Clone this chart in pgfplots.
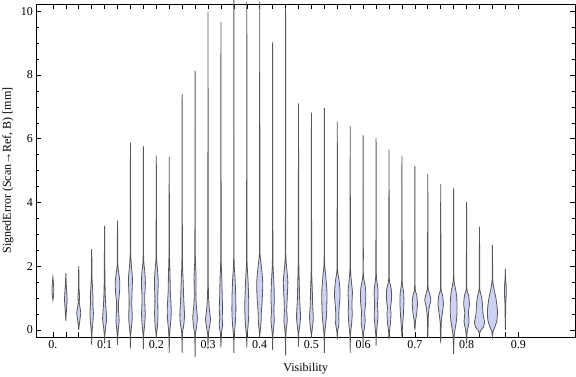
\documentclass[border=0pt]{standalone}
\usepackage{fontspec}
\setmainfont{Liberation Serif}
\usepackage{pgfplots}
\pgfplotsset{compat=1.18}
\definecolor{vfill}{RGB}{205,210,245}
\pgfplotsset{violin/.style={draw=black!66, line width=0.8bp, fill=vfill, mark=none, smooth, tension=0.45}}
% \violin{center}{min}{max}{y/halfwidth(px), ...}
\newcommand\violin[4]{%
  \gdef\vR{}\gdef\vL{}%
  \foreach \yy/\ww in {#4}{%
    \pgfmathsetmacro\xr{#1+\ww/517.7}%
    \pgfmathsetmacro\xl{#1-\ww/517.7}%
    \xdef\vR{\vR (\xr,\yy)}%
    \xdef\vL{(\xl,\yy)\vL}%
  }%
  \edef\temp{\noexpand\addplot[violin] coordinates {(#1,#2)\vR(#1,#3)\vL} -- cycle;}%
  \temp
}
\begin{document}
\begin{tikzpicture}
\begin{axis}[
  name=ax,
  scale only axis,
  width=538.5bp, height=332.7bp,
  xmin=-0.0317, xmax=1.0097,
  ymin=-0.22, ymax=10.22,
  clip=false,
  axis line style={line width=0.8bp},
  tick align=inside,
  major tick length=5bp, minor tick length=3bp,
  tick style={black, line width=0.6bp},
  xtick={0,0.025,0.05,0.075,0.1,0.125,0.15,0.175,0.2,0.225,0.25,0.275,0.3,0.325,0.35,0.375,0.4,0.425,0.45,0.475,0.5,0.525,0.55,0.575,0.6,0.625,0.65,0.675,0.7,0.725,0.75,0.775,0.8,0.825,0.85,0.875,0.9},
  xticklabels={0.,{},{},{},0.1,{},{},{},0.2,{},{},{},0.3,{},{},{},0.4,{},{},{},0.5,{},{},{},0.6,{},{},{},0.7,{},{},{},0.8,{},{},{},0.9},
  ytick={0,2,4,6,8,10},
  minor y tick num=3,
  /pgf/number format/assume math mode=true,
  tick label style={font=\fontsize{12bp}{14bp}\selectfont},
  xlabel={Visibility},
  ylabel={SignedError (Scan→Ref, B) [mm]},
  label style={font=\fontsize{12bp}{14bp}\selectfont},
  xlabel style={at={(rel axis cs:0.5,-0.1022)}, anchor=base},
  ylabel style={at={(rel axis cs:-0.0529,0.5)}, anchor=center},
]
\violin{0}{0.94}{1.66}{1.0/0.3, 1.1/0.7, 1.25/0.9, 1.4/0.7, 1.55/0.3}
\violin{0.025}{0.29}{1.78}{0.4/0.2, 0.6/0.6, 0.8/1.0, 0.95/1.3, 1.15/1.0, 1.4/0.5, 1.6/0.2}
\violin{0.05}{0.0}{2.0}{0.15/0.4, 0.35/1.3, 0.55/2.0, 0.75/1.0, 0.88/0.5, 1.05/0.8, 1.3/0.3, 1.7/0.2}
\violin{0.075}{-0.47}{2.54}{-0.1/0.25, 0.1/0.8, 0.35/1.5, 0.55/1.7, 0.8/1.2, 1.05/1.3, 1.35/0.8, 1.7/0.3, 2.2/0.2}
\violin{0.1}{-0.42}{3.27}{-0.15/0.25, 0.05/0.9, 0.35/2.0, 0.65/1.4, 1.0/0.8, 1.35/0.5, 1.8/0.25, 2.5/0.2}
\violin{0.125}{-0.47}{3.43}{-0.2/0.25, 0.0/0.7, 0.3/1.6, 0.6/1.0, 0.85/0.9, 1.15/1.9, 1.5/2.3, 1.8/1.2, 2.05/0.3, 2.6/0.2}
\violin{0.15}{-0.58}{5.88}{-0.15/0.25, 0.1/1.0, 0.4/1.8, 0.8/1.3, 1.2/1.6, 1.6/2.0, 2.0/1.0, 2.35/0.3, 3.2/0.2}
\violin{0.175}{-0.6}{5.76}{-0.15/0.25, 0.15/1.2, 0.5/1.8, 1.0/1.3, 1.45/2.0, 1.8/1.5, 2.2/0.3, 3.0/0.2}
\violin{0.2}{-0.25}{5.47}{-0.1/0.3, 0.15/1.2, 0.5/1.7, 1.0/1.4, 1.5/1.9, 1.85/1.3, 2.25/0.3, 3.0/0.2}
\violin{0.225}{-0.72}{5.44}{-0.25/0.25, 0.0/0.7, 0.3/1.6, 0.65/2.0, 1.2/1.1, 1.7/0.8, 2.3/0.3, 3.0/0.2}
\violin{0.25}{-0.72}{7.4}{-0.2/0.25, 0.0/0.7, 0.2/1.8, 0.5/2.3, 1.0/1.5, 1.6/0.9, 2.1/0.3, 3.0/0.2}
\violin{0.275}{-0.85}{8.14}{-0.15/0.3, 0.1/1.5, 0.4/2.3, 0.7/1.4, 1.1/0.8, 1.7/1.0, 2.2/0.3, 3.0/0.2}
\violin{0.3}{-0.6}{9.98}{-0.15/0.3, 0.1/1.5, 0.35/2.5, 0.6/1.5, 1.0/0.6, 1.4/0.3, 2.2/0.2}
\violin{0.325}{-0.55}{9.66}{-0.1/0.5, 0.15/1.7, 0.4/1.2, 0.65/1.7, 1.0/1.3, 1.5/1.0, 2.1/0.3, 3.0/0.2}
\violin{0.35}{-0.72}{10.38}{-0.2/0.3, 0.05/1.0, 0.3/1.6, 0.6/2.0, 1.1/1.8, 1.6/1.2, 2.1/0.3, 3.0/0.2}
\violin{0.375}{-0.55}{10.3}{-0.15/0.3, 0.1/1.2, 0.4/1.8, 0.8/2.0, 1.5/1.3, 2.1/0.3, 3.0/0.2}
\violin{0.4}{-0.22}{10.3}{-0.1/0.25, 0.05/0.8, 0.3/1.4, 0.6/1.7, 1.0/2.6, 1.5/3.0, 2.0/1.6, 2.4/0.3, 3.2/0.2}
\violin{0.425}{-0.63}{9.03}{-0.2/0.25, 0.05/0.9, 0.3/1.7, 0.6/1.2, 1.0/1.7, 1.5/1.2, 2.1/0.3, 3.0/0.2}
\violin{0.45}{-0.8}{10.1}{-0.2/0.25, 0.05/0.8, 0.3/1.7, 0.6/1.2, 1.0/1.6, 1.5/2.3, 1.85/1.4, 2.3/0.3, 3.2/0.2}
\violin{0.475}{-0.53}{7.11}{-0.1/0.3, 0.2/1.5, 0.45/2.0, 0.9/1.2, 1.4/0.8, 2.1/0.3, 3.0/0.2}
\violin{0.5}{-0.25}{6.82}{-0.1/0.3, 0.15/1.3, 0.4/1.9, 0.7/1.3, 1.2/0.9, 1.8/0.3, 2.6/0.2}
\violin{0.525}{-0.72}{6.96}{-0.15/0.3, 0.15/1.2, 0.4/2.0, 0.7/2.4, 1.2/2.6, 1.7/1.4, 2.1/0.3, 3.0/0.2}
\violin{0.55}{-0.3}{6.54}{-0.1/0.25, 0.0/0.6, 0.2/1.7, 0.4/1.5, 0.7/1.8, 1.1/2.8, 1.5/2.0, 1.9/0.3, 2.7/0.2}
\violin{0.575}{-0.72}{6.39}{-0.15/0.3, 0.2/1.4, 0.5/2.0, 0.8/1.7, 1.2/2.2, 1.45/1.4, 1.9/0.3, 2.7/0.2}
\violin{0.6}{-0.53}{6.11}{-0.15/0.3, 0.05/1.2, 0.3/2.0, 0.55/1.6, 0.9/2.6, 1.3/2.4, 1.7/0.3, 2.5/0.2}
\violin{0.625}{-0.5}{6.02}{-0.15/0.25, 0.1/1.0, 0.45/1.9, 0.8/1.5, 1.15/2.0, 1.35/1.6, 1.7/0.3, 2.5/0.2}
\violin{0.65}{-0.3}{5.66}{-0.05/0.4, 0.2/1.4, 0.5/2.0, 0.7/1.6, 1.0/2.6, 1.3/2.2, 1.6/0.3, 2.4/0.2}
\violin{0.675}{-0.2}{5.45}{-0.05/0.3, 0.2/0.8, 0.5/1.5, 0.9/2.0, 1.2/1.6, 1.5/0.3, 2.3/0.2}
\violin{0.7}{0.0}{5.14}{0.1/0.3, 0.3/0.7, 0.5/1.8, 0.85/2.6, 1.1/1.8, 1.3/0.3, 2.1/0.2}
\violin{0.725}{-0.2}{4.9}{0.1/0.3, 0.4/0.5, 0.7/1.4, 0.95/3.0, 1.2/1.2, 1.35/0.3, 2.1/0.2}
\violin{0.75}{-0.42}{4.58}{-0.05/0.3, 0.25/0.6, 0.5/1.5, 0.8/2.7, 1.1/1.8, 1.3/0.3, 2.1/0.2}
\violin{0.775}{-0.75}{4.44}{-0.4/0.25, -0.2/0.5, 0.0/1.3, 0.2/2.4, 0.5/3.3, 1.0/3.2, 1.3/1.8, 1.6/0.3, 2.4/0.2}
\violin{0.8}{-0.42}{4.02}{-0.15/0.3, 0.05/1.2, 0.25/2.5, 0.55/1.8, 0.8/2.9, 1.1/2.0, 1.3/0.3, 2.1/0.2}
\violin{0.825}{-0.12}{3.24}{0.0/1.5, 0.1/4.0, 0.25/5.0, 0.5/3.5, 0.8/3.0, 1.05/2.0, 1.3/0.3, 2.0/0.2}
\violin{0.85}{-0.2}{2.67}{-0.05/0.6, 0.1/2.5, 0.3/4.5, 0.6/5.0, 1.0/3.5, 1.3/1.5, 1.55/0.3, 2.0/0.2}
\violin{0.875}{0.0}{1.92}{0.5/0.25, 0.85/0.4, 1.1/0.9, 1.35/0.9, 1.6/0.3}
\end{axis}
\pgfresetboundingbox
\path[use as bounding box] ([shift={(-36.5bp,-40bp)}]ax.south west) rectangle ([shift={(1bp,4.3bp)}]ax.north east);
\end{tikzpicture}
\end{document}
